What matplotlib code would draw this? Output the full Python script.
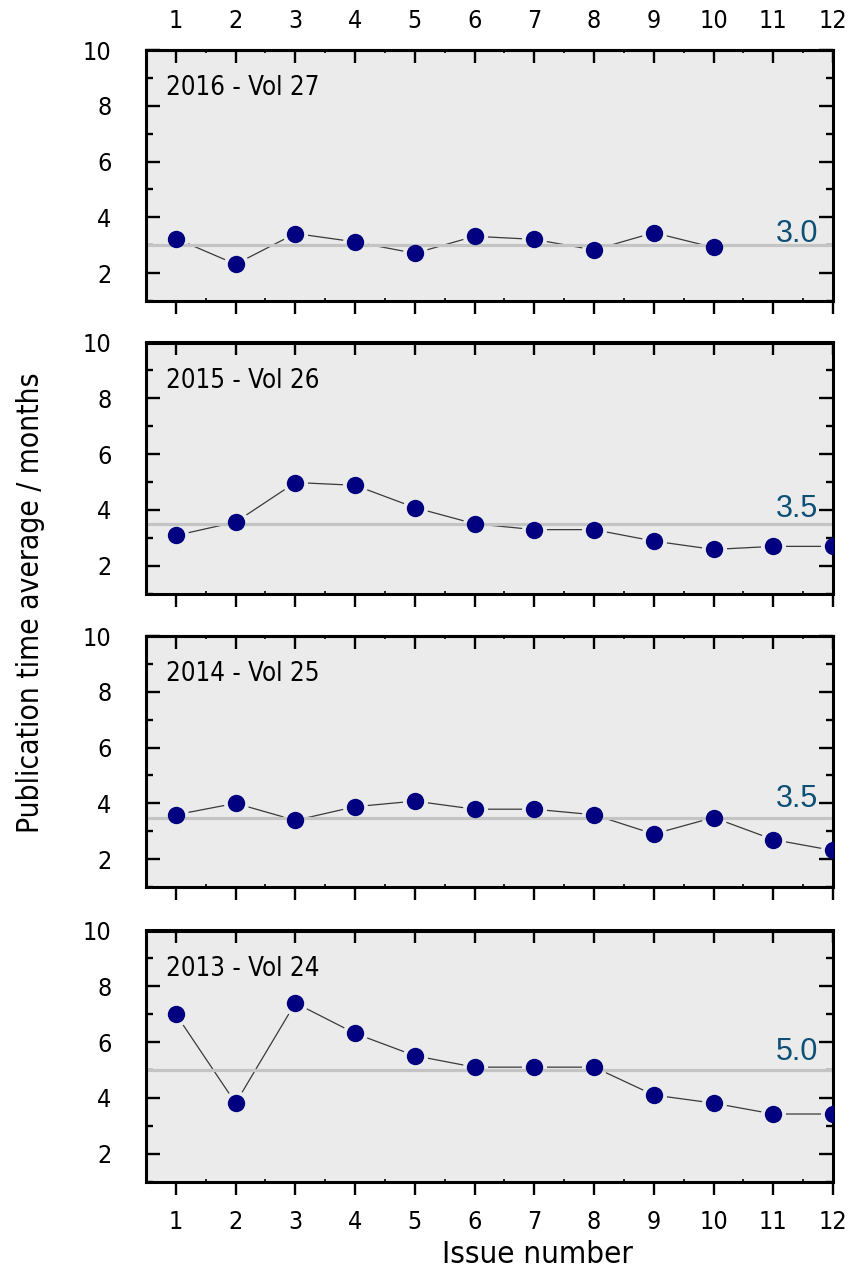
import matplotlib
matplotlib.use("Agg")
import matplotlib.pyplot as plt
from matplotlib import font_manager as fm
from matplotlib.ticker import MultipleLocator
import matplotlib.transforms as mtransforms
import numpy as np

# ---------------- data ----------------
issues = [1, 2, 3, 4, 5, 6, 7, 8, 9, 10, 11, 12]
panel_titles = ["2016 - Vol 27", "2015 - Vol 26", "2014 - Vol 25", "2013 - Vol 24"]
v2016 = [3.24, 2.32, 3.42, 3.12, 2.71, 3.32, 3.21, 2.83, 3.45, 2.92]
v2015 = [3.08, 3.56, 4.98, 4.88, 4.08, 3.50, 3.29, 3.29, 2.88, 2.58, 2.69, 2.69]
v2014 = [3.59, 4.00, 3.39, 3.88, 4.08, 3.79, 3.79, 3.59, 2.90, 3.49, 2.70, 2.31]
v2013 = [7.00, 3.81, 7.40, 6.31, 5.51, 5.10, 5.10, 5.10, 4.10, 3.81, 3.42, 3.42]
means = [3.0, 3.5, 3.47, 5.0]
mean_labels = ["3.0", "3.5", "3.5", "5.0"]
series = [v2016, v2015, v2014, v2013]
y_ticks = [2, 4, 6, 8, 10]

# ---------------- fonts ----------------
main_family = "DejaVu Sans"
main_stretch = "normal"
for f in fm.fontManager.ttflist:
    if "DejaVuSansCondensed.ttf" in f.fname:
        main_family = f.name
        main_stretch = f.stretch
        break
plt.rcParams["font.family"] = [main_family, "DejaVu Sans"]
plt.rcParams["font.stretch"] = main_stretch

# ---------------- layout (pixels) ----------------
W, H = 852, 1268
L, R = 146, 833
tops = [50, 342.5, 636, 930.5]
PH = 251
label_off_px = [3, 7, 11, 10]

fig = plt.figure(figsize=(W / 100, H / 100), dpi=100)
fig.patch.set_facecolor("white")

tick_fs = 18
for i, (vals, title, m, mlab) in enumerate(zip(series, panel_titles, means, mean_labels)):
    top = tops[i]
    ax = fig.add_axes([L / W, 1 - (top + PH) / H, (R - L) / W, PH / H])
    ax.set_facecolor("#EBEBEB")
    ax.set_xlim(0.5, 12)
    ax.set_ylim(1, 10)
    xs = issues[:len(vals)]
    ax.plot(xs, vals, color="#3A3A3A", lw=0.9, zorder=1)
    ax.plot(xs, vals, "o", ms=18, color="#EBEBEB", mec="none", zorder=1.5)
    ax.axhline(m, color="#C4C4C4", lw=2.3, zorder=2)
    ax.plot(xs, vals, "o", ms=12.5, color="#000080", mec="none", zorder=3)

    tr = ax.get_yaxis_transform() + mtransforms.ScaledTranslation(
        0, label_off_px[i] / 100, fig.dpi_scale_trans)
    ax.text(0.9785, m, mlab, transform=tr, ha="right", va="baseline",
            fontsize=22, color="#0D4F75", family="Liberation Sans", zorder=4)

    ax.text(20 / (R - L), 1 - 45 / PH, title, transform=ax.transAxes,
            ha="left", va="baseline", fontsize=18.5, color="black")

    for sp in ax.spines.values():
        sp.set_linewidth(2.2)

    ax.xaxis.set_major_locator(MultipleLocator(1))
    ax.xaxis.set_minor_locator(MultipleLocator(0.5))
    ax.set_yticks(y_ticks)
    ax.set_yticklabels([str(t) for t in y_ticks])
    ax.yaxis.set_minor_locator(MultipleLocator(1))

    sec = ax.secondary_xaxis("top")
    sec.xaxis.set_major_locator(MultipleLocator(1))
    sec.xaxis.set_minor_locator(MultipleLocator(0.5))
    sec.spines["top"].set_linewidth(2.2)
    sec.tick_params(which="major", direction="in", length=9.5, width=1.7,
                    labeltop=(i == 0), labelsize=tick_fs, pad=12)
    sec.tick_params(which="minor", direction="in", length=2.5, width=1.2)

    ax.xaxis.set_tick_params(which="minor", direction="in", length=2.5, width=1.2,
                             top=False, bottom=True)
    ax.xaxis.set_tick_params(which="major", direction="out", length=9.5, width=1.7,
                             top=False, bottom=True, labelbottom=(i == 3),
                             labelsize=tick_fs, pad=11)
    ax.yaxis.set_tick_params(which="minor", direction="in", length=5, width=1.7,
                             left=True, right=True)
    ax.yaxis.set_tick_params(which="major", direction="in", length=10, width=1.7,
                             left=True, right=True, labelsize=tick_fs, pad=25)

fig.text(537 / W, 1 - 1263 / H, "Issue number", ha="center", va="baseline", fontsize=22.5)
fig.text(39.5 / W, 1 - 602.5 / H, "Publication time average / months", rotation=90,
         rotation_mode="anchor", ha="center", va="baseline", fontsize=21.5)

fig.savefig("out.png", dpi=100)
